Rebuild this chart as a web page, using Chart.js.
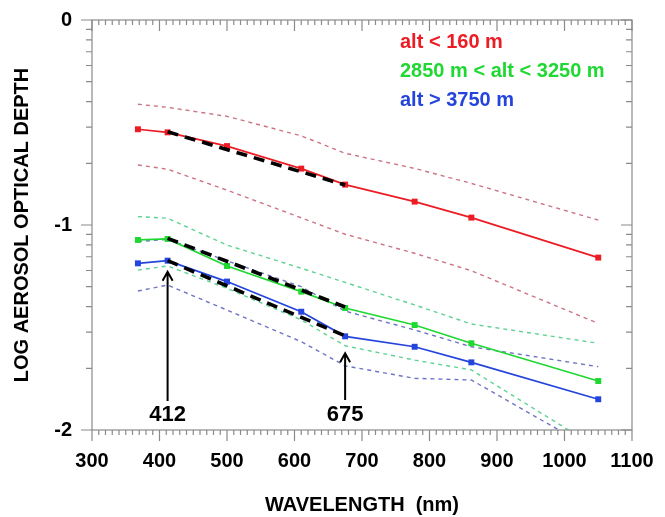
<!DOCTYPE html>
<html>
<head>
<meta charset="utf-8">
<script src="https://cdn.jsdelivr.net/npm/chart.js@4.4.0/dist/chart.umd.min.js"></script>
<style>
  html, body { margin: 0; padding: 0; background: #fff; }
  #wrap { width: 665px; height: 517px; }
</style>
</head>
<body>
<div id="wrap"><canvas id="aod"></canvas></div>
<script>
// wavelengths of the sun photometer channels (nm)
const wavelengths = [368, 412, 500, 610, 675, 778, 862, 1050];

// log10 AOD, mean and +/- envelope per altitude class
const redMean    = [-0.533, -0.548, -0.615, -0.725, -0.803, -0.886, -0.964, -1.159];
const redUpper   = [-0.411, -0.426, -0.470, -0.565, -0.650, -0.724, -0.797, -0.976];
const redLower   = [-0.707, -0.728, -0.830, -0.965, -1.045, -1.138, -1.223, -1.480];
const greenMean  = [-1.073, -1.068, -1.200, -1.325, -1.405, -1.488, -1.577, -1.761];
const greenUpper = [-0.959, -0.967, -1.098, -1.211, -1.280, -1.390, -1.483, -1.577];
const greenLower = [-1.220, -1.200, -1.309, -1.463, -1.589, -1.659, -1.707, -2.090];
const blueMean   = [-1.187, -1.174, -1.276, -1.423, -1.543, -1.594, -1.670, -1.850];
const blueUpper  = [-1.081, -1.070, -1.175, -1.301, -1.420, -1.512, -1.594, -1.691];
const blueLower  = [-1.322, -1.293, -1.415, -1.569, -1.687, -1.748, -1.756, -2.110];

// straight fits between the two marked channels
const fitRange = [412, 675];
const redFit   = [-0.545, -0.805];
const greenFit = [-1.065, -1.400];
const blueFit  = [-1.174, -1.541];

const legendLabels = ['alt < 160 m', '2850 m < alt < 3250 m', 'alt > 3750 m'];
const arrowMarks = [412, 675];
const arrowTips  = [-1.228, -1.626];
const arrowTails = [-1.858, -1.854];
const arrowLabelY = -1.928;

const RED = '#ec1c24', GREEN = '#1fd832', BLUE = '#2444dc';
const FONT = 'Liberation Sans, Arial, Helvetica, sans-serif';

function pts(ys, xs = wavelengths) {
    return xs.map((x, i) => ({ x: x, y: ys[i] }));
}

function meanSet(label, ys, color) {
    return {
        label: label, data: pts(ys), borderColor: color, backgroundColor: color,
        borderWidth: 1.7, pointStyle: 'rect', pointRadius: 4.2, pointBorderWidth: 0,
        tension: 0, order: 1
    };
}

function envSet(ys, color) {
    return {
        data: pts(ys), borderColor: color, borderWidth: 1.4, borderDash: [4, 4],
        pointRadius: 0, tension: 0, order: 2
    };
}

function fitSet(ys) {
    return {
        data: pts(ys, fitRange), borderColor: '#000', borderWidth: 3.6, borderDash: [11, 7],
        pointRadius: 0, tension: 0, order: 0
    };
}

// frame, IDL style tick marks, legend text and the two arrows
const decorPlugin = {
    id: 'decor',
    afterDraw(chart) {
        const { ctx, chartArea: a, scales } = chart;
        const xs = scales.x, ys = scales.y;
        ctx.save();
        ctx.strokeStyle = '#8a8a8a';
        ctx.lineWidth = 1.2;
        ctx.strokeRect(a.left, a.top, a.right - a.left, a.bottom - a.top);

        ctx.beginPath();
        for (let v = 300; v <= 1100; v += 10) {
            const px = xs.getPixelForValue(v);
            const len = v % 100 === 0 ? 11 : 5;
            ctx.moveTo(px, a.bottom); ctx.lineTo(px, a.bottom + len);
            ctx.moveTo(px, a.top); ctx.lineTo(px, a.top + len);
        }
        const yMarks = [];
        for (let d = -2; d <= 0; d++) yMarks.push([d, true]);
        for (let d = -2; d < 0; d++) {
            for (let k = 2; k <= 9; k++) yMarks.push([d + Math.log10(k), false]);
        }
        yMarks.forEach(([v, major]) => {
            const py = ys.getPixelForValue(v);
            const len = major ? 11 : 6;
            ctx.moveTo(a.left, py); ctx.lineTo(a.left - len, py);
            ctx.moveTo(a.right, py); ctx.lineTo(a.right - len, py);
        });
        ctx.stroke();

        // legend
        ctx.font = 'bold 20px ' + FONT;
        ctx.textAlign = 'left';
        ctx.textBaseline = 'middle';
        [RED, GREEN, BLUE].forEach((c, i) => {
            ctx.fillStyle = c;
            ctx.fillText(legendLabels[i], 400, 42 + i * 29);
        });

        // arrows pointing at the fit end channels
        ctx.strokeStyle = '#000';
        ctx.fillStyle = '#000';
        ctx.lineWidth = 2;
        ctx.font = 'bold 22px ' + FONT;
        ctx.textAlign = 'center';
        arrowMarks.forEach((w, i) => {
            const px = xs.getPixelForValue(w);
            const top = ys.getPixelForValue(arrowTips[i]);
            const bot = ys.getPixelForValue(arrowTails[i]);
            ctx.beginPath();
            ctx.moveTo(px, bot); ctx.lineTo(px, top);
            ctx.moveTo(px - 5, top + 9); ctx.lineTo(px, top); ctx.lineTo(px + 5, top + 9);
            ctx.stroke();
            ctx.fillText(String(w), px, ys.getPixelForValue(arrowLabelY));
        });
        ctx.restore();
    }
};

new Chart(document.getElementById('aod'), {
    type: 'line',
    data: {
        datasets: [
            fitSet(redFit), fitSet(greenFit), fitSet(blueFit),
            meanSet('alt < 160 m', redMean, RED),
            meanSet('2850 m < alt < 3250 m', greenMean, GREEN),
            meanSet('alt > 3750 m', blueMean, BLUE),
            envSet(redUpper, 'rgba(185,70,90,0.75)'),
            envSet(redLower, 'rgba(185,70,90,0.75)'),
            envSet(greenUpper, 'rgba(40,195,110,0.75)'),
            envSet(greenLower, 'rgba(40,195,110,0.75)'),
            envSet(blueUpper, 'rgba(60,70,175,0.75)'),
            envSet(blueLower, 'rgba(60,70,175,0.75)')
        ]
    },
    options: {
        responsive: true,
        maintainAspectRatio: false,
        animation: false,
        devicePixelRatio: 1,
        layout: { padding: { top: 20, right: 33, left: 0, bottom: 0 } },
        plugins: { legend: { display: false }, tooltip: { enabled: false } },
        scales: {
            x: {
                type: 'linear', min: 300, max: 1100,
                grid: { display: false, drawTicks: false },
                border: { display: false },
                ticks: {
                    stepSize: 100, autoSkip: false, maxRotation: 0, padding: 19,
                    callback: v => String(v),
                    color: '#000', font: { family: FONT, size: 20, weight: 'bold' }
                },
                title: {
                    display: true, text: 'WAVELENGTH  (nm)', color: '#000',
                    font: { family: FONT, size: 20, weight: 'bold' },
                    padding: { top: 0, bottom: 0 }
                },
                afterFit(scale) {
                    scale.height = 87;
                    scale.paddingLeft = 0;
                    scale.paddingRight = 0;
                }
            },
            y: {
                type: 'linear', min: -2, max: 0,
                grid: { display: false, drawTicks: false },
                border: { display: false },
                ticks: {
                    stepSize: 1, padding: 20,
                    callback: v => String(v),
                    color: '#000', font: { family: FONT, size: 20, weight: 'bold' }
                },
                title: {
                    display: true, text: 'LOG AEROSOL OPTICAL DEPTH', color: '#000',
                    font: { family: FONT, size: 20, weight: 'bold' },
                    padding: { top: 10, bottom: 0 }
                },
                afterFit(scale) {
                    scale.width = 92;
                    scale.paddingTop = 0;
                    scale.paddingBottom = 0;
                }
            }
        }
    },
    plugins: [decorPlugin]
});
</script>
</body>
</html>
